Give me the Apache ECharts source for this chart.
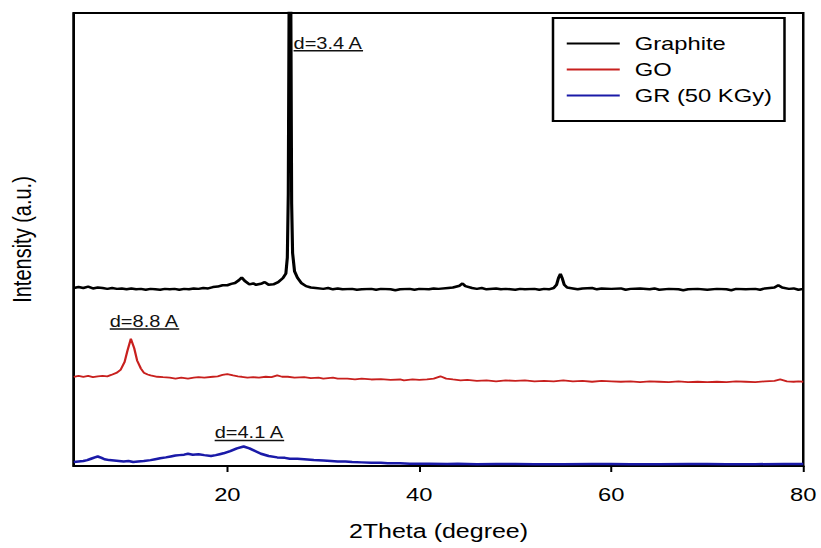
<!DOCTYPE html>
<html>
<head>
<meta charset="utf-8">
<script src="https://cdn.jsdelivr.net/npm/echarts@6/dist/echarts.min.js"></script>
<style>
  html, body { margin: 0; padding: 0; background: #fff; overflow: hidden; }
  /* the figure is laid out at 4/5 width and widened to 821px */
  #chart { width: 656.8px; height: 548px; transform: scaleX(1.25); transform-origin: 0 0; }
</style>
</head>
<body>
<div id="chart"></div>
<script>
// XRD patterns, stacked with a vertical offset (arbitrary intensity units)
const graphiteTheta = [4, 4.5, 5, 5.5, 6, 6.5, 7, 7.5, 8, 8.5, 9, 9.5, 10, 10.5, 11, 11.5, 12, 12.5, 13, 13.5, 14, 14.5, 15, 15.5, 16, 16.5, 17, 17.5, 18, 18.5, 19, 19.5, 20, 20.4, 20.8, 21.2, 21.5, 21.8, 22.3, 22.7, 23, 23.6, 23.9, 24.3, 24.8, 25.3, 25.8, 26.1, 26.25, 26.35, 26.45, 26.52, 26.6, 26.7, 26.8, 27.0, 27.3, 27.7, 28.2, 28.7, 29.2, 30, 30.5, 31, 31.5, 32, 33, 33.5, 34, 35, 35.5, 36, 37, 37.5, 38, 39, 39.5, 40, 41, 41.5, 42, 43, 43.5, 44.2, 44.5, 44.8, 45.5, 46, 46.5, 47, 48, 48.5, 49, 50, 50.5, 51, 52, 52.5, 53, 53.5, 54, 54.3, 54.5, 54.7, 54.9, 55.1, 55.4, 56, 56.5, 57, 58, 58.5, 59, 60, 61, 61.5, 62, 63, 64, 64.5, 65, 66, 67, 67.5, 68, 69, 70, 71, 72, 72.5, 73, 74, 75, 75.5, 76, 77, 77.4, 77.8, 78.5, 79, 79.5, 80];
const graphiteInt   = [39.3, 39.5, 39.3, 39.6, 39.2, 39.4, 39.3, 39.1, 39.3, 39.1, 39.2, 39.0, 39.2, 39.0, 39.1, 38.9, 39.1, 39.0, 38.9, 39.1, 39.0, 39.1, 38.9, 39.1, 39.0, 39.2, 39.1, 39.3, 39.2, 39.5, 39.6, 39.9, 39.9, 40.2, 40.4, 41.0, 41.6, 40.9, 40.1, 40.3, 40.0, 40.3, 40.6, 40.0, 40.1, 40.6, 41.5, 42.5, 46, 60, 110, 150, 110, 58, 47, 43, 41.6, 40.4, 39.7, 39.4, 39.3, 39.1, 39.3, 39.0, 39.2, 39.0, 39.1, 38.9, 39.0, 39.1, 38.9, 39.1, 39.0, 38.8, 39.0, 39.1, 38.9, 39.1, 39.0, 39.2, 39.1, 39.3, 39.4, 39.8, 40.3, 39.7, 39.3, 39.1, 39.3, 39.0, 39.2, 39.0, 39.1, 38.9, 39.1, 39.0, 39.1, 38.9, 39.1, 39.0, 39.3, 40.0, 41.5, 42.4, 41.4, 40.0, 39.4, 39.2, 39.0, 39.2, 39.3, 39.0, 39.2, 39.1, 39.2, 38.9, 39.1, 39.2, 39.0, 39.2, 38.9, 39.1, 39.0, 38.8, 39.0, 39.1, 38.9, 39.1, 39.0, 38.8, 39.1, 39.0, 39.1, 38.9, 39.2, 39.4, 39.9, 39.4, 39.1, 39.2, 38.9, 39.1];

const goTheta = [4, 4.5, 5, 5.5, 6, 6.5, 7, 7.5, 7.9, 8.5, 8.9, 9.3, 9.6, 9.95, 10.3, 10.6, 11.0, 11.3, 11.7, 12, 12.7, 13.3, 14, 14.6, 15.2, 15.9, 16.5, 17, 17.6, 18.5, 19.0, 19.5, 20, 20.6, 21.1, 21.5, 22.1, 22.7, 23.3, 24, 24.6, 25.2, 25.7, 26.3, 27, 28, 28.7, 29.5, 30, 31, 31.5, 32.5, 33.3, 34, 35, 36, 37, 38, 38.4, 39.3, 40, 40.8, 41.5, 42.2, 42.8, 43.5, 44.3, 45, 46, 47, 48, 49, 50, 51, 52, 53, 54, 55, 56, 57, 58, 59, 60, 61, 62, 63, 64, 65, 66, 67, 68, 69, 70, 71, 72, 73, 74, 75, 76, 77, 77.6, 78.3, 79, 79.5, 80];
const goInt   = [19.7, 19.9, 19.7, 19.9, 19.6, 19.8, 19.9, 19.8, 20.1, 20.6, 21.3, 23.0, 25.5, 28.1, 26.0, 23.3, 21.5, 20.6, 20.2, 20.0, 19.7, 19.6, 19.5, 19.3, 19.5, 19.3, 19.5, 19.6, 19.5, 19.7, 19.8, 20.1, 20.3, 20.0, 19.8, 19.7, 19.5, 19.6, 19.5, 19.7, 19.6, 20.0, 19.7, 19.7, 19.5, 19.6, 19.4, 19.5, 19.3, 19.5, 19.3, 19.3, 19.1, 19.3, 19.1, 19.2, 19.0, 19.1, 18.9, 19.1, 19.0, 19.1, 19.3, 19.8, 19.3, 19.1, 18.9, 19.0, 18.8, 18.9, 18.7, 18.9, 18.8, 18.9, 18.7, 18.8, 18.7, 18.9, 18.7, 18.8, 18.6, 18.8, 18.7, 18.6, 18.7, 18.5, 18.7, 18.6, 18.5, 18.7, 18.5, 18.6, 18.5, 18.6, 18.5, 18.7, 18.6, 18.5, 18.7, 18.8, 19.1, 18.7, 18.6, 18.7, 18.6];

const grTheta = [4, 4.5, 5, 5.4, 5.8, 6.2, 6.5, 6.9, 7.2, 7.7, 8.2, 8.7, 9.2, 9.7, 10.2, 10.7, 11.3, 12, 12.5, 13, 13.6, 14.1, 14.6, 15, 15.5, 15.9, 16.4, 17, 17.6, 18.3, 18.8, 19.2, 19.6, 20.3, 21, 21.7, 22.3, 23, 23.5, 24.3, 25.2, 26, 26.5, 27.3, 28, 29, 30, 30.8, 31.5, 32.3, 33, 34, 35, 36, 36.7, 38, 39, 41, 42.9, 44, 46, 48, 50, 52, 55, 58, 60, 62, 65, 68, 70, 72, 75, 78, 80];
const grInt   = [0.9, 1.0, 1.1, 1.3, 1.6, 1.9, 2.1, 1.8, 1.5, 1.3, 1.2, 1.1, 1.0, 1.1, 0.9, 1.0, 1.1, 1.3, 1.5, 1.7, 1.9, 2.1, 2.3, 2.4, 2.5, 2.7, 2.5, 2.6, 2.4, 2.2, 2.4, 2.6, 2.8, 3.3, 3.9, 4.3, 3.9, 3.2, 2.7, 2.2, 1.9, 1.8, 1.6, 1.6, 1.5, 1.3, 1.2, 1.1, 1.0, 1.0, 0.9, 0.8, 0.7, 0.7, 0.6, 0.6, 0.5, 0.5, 0.45, 0.5, 0.4, 0.45, 0.45, 0.4, 0.4, 0.45, 0.45, 0.4, 0.4, 0.45, 0.45, 0.4, 0.4, 0.45, 0.45];

const seriesNames = ['Graphite', 'GO', 'GR (50 KGy)'];
const xTicks = [20, 40, 60, 80];

// interlayer spacing labels: text, 2θ of the left edge, intensity level
const noteText  = ['d=3.4 A', 'd=8.8 A', 'd=4.1 A'];
const noteTheta = [26.9, 7.75, 18.68];
const noteLevel = [93.3, 31.9, 7.3];

const FONT = '"Liberation Sans", Arial, sans-serif';
const pairs = (xs, ys) => xs.map((x, i) => [x, ys[i]]);

const chart = echarts.init(document.getElementById('chart'), null, { renderer: 'svg' });

chart.setOption({
  animation: false,
  backgroundColor: '#fff',
  grid: { left: 58.4, right: 14.4, top: 13, bottom: 82, show: true, borderColor: '#000', borderWidth: 2, backgroundColor: 'transparent' },
  legend: {
    orient: 'vertical', left: 442.4, top: 18,
    padding: [16, 10, 16, 11],
    itemWidth: 42.4, itemHeight: 2, itemGap: 7,
    icon: 'rect',
    borderColor: '#000', borderWidth: 2,
    textStyle: { fontFamily: FONT, fontSize: 19, color: '#000', padding: [0, 0, 0, 7] },
    data: seriesNames
  },
  xAxis: {
    type: 'value', min: 4, max: 80,
    name: '2Theta (degree)', nameLocation: 'middle', nameGap: 55,
    nameTextStyle: { fontFamily: FONT, fontSize: 20, color: '#000' },
    axisLine: { show: true, lineStyle: { color: '#000', width: 2 } },
    axisTick: { show: true, customValues: xTicks, length: 6, lineStyle: { color: '#000', width: 1.6 } },
    axisLabel: { customValues: xTicks, margin: 19, fontFamily: FONT, fontSize: 19, color: '#000' },
    splitLine: { show: false }
  },
  yAxis: {
    type: 'value', min: 0, max: 100,
    name: 'Intensity (a.u.)', nameLocation: 'middle', nameGap: 31,
    nameTextStyle: { fontFamily: FONT, fontSize: 20, color: '#000' },
    axisLine: { show: true, lineStyle: { color: '#000', width: 2 } },
    axisTick: { show: false }, axisLabel: { show: false }, splitLine: { show: false }
  },
  series: [
    { name: seriesNames[0], type: 'line', data: pairs(graphiteTheta, graphiteInt), showSymbol: false, symbol: 'none', clip: true,
      color: '#000', lineStyle: { color: '#000', width: 2.5 }, z: 3 },
    { name: seriesNames[1], type: 'line', data: pairs(goTheta, goInt), showSymbol: false, symbol: 'none', clip: true,
      color: '#c8201e', lineStyle: { color: '#c8201e', width: 1.8 }, z: 2 },
    { name: seriesNames[2], type: 'line', data: pairs(grTheta, grInt), showSymbol: false, symbol: 'none', clip: true,
      color: '#1a1aa8', lineStyle: { color: '#1a1aa8', width: 2.5 }, z: 2 }
  ]
});

// underlined d-spacing labels placed through the grid's coordinate system
const measure = document.createElement('canvas').getContext('2d');
measure.font = '16px ' + FONT;
const graphics = [];
noteText.forEach((t, i) => {
  const p = chart.convertToPixel({ gridIndex: 0 }, [noteTheta[i], noteLevel[i]]);
  const w = measure.measureText(t).width;
  graphics.push({
    type: 'text', x: p[0], y: p[1], z: 10,
    style: { text: t, font: '16px ' + FONT, fill: '#111', textAlign: 'left', textVerticalAlign: 'middle' }
  });
  graphics.push({
    type: 'line', z: 10,
    shape: { x1: p[0], y1: p[1] + 7.5, x2: p[0] + w, y2: p[1] + 7.5 },
    style: { stroke: '#111', lineWidth: 1.5 }
  });
});
chart.setOption({ graphic: graphics });
</script>
</body>
</html>
